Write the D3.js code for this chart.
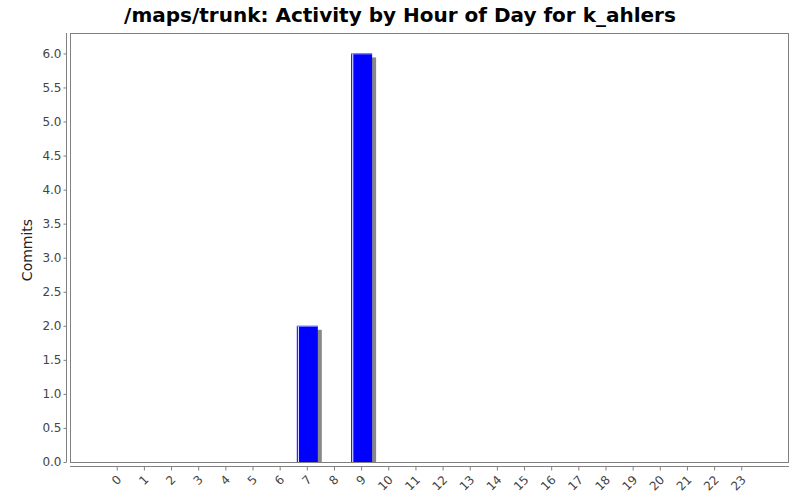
<!DOCTYPE html>
<html><head><meta charset="utf-8">
<script src="https://cdn.jsdelivr.net/npm/d3@7"></script>
<style>body{margin:0;background:#fff}</style>
</head><body>
<svg id="c" width="800" height="500"></svg>
<script>
const hours = d3.range(0,24).map(String);
const commits = [0,0,0,0,0,0,0,2,0,6,0,0,0,0,0,0,0,0,0,0,0,0,0,0];
const yTicks = [0,0.5,1,1.5,2,2.5,3,3.5,4,4.5,5,5.5,6];
const titleText = "/maps/trunk: Activity by Hour of Day for k_ahlers";
const yLabel = "Commits";

const svg = d3.select("#c");
const L=70, R=789, T=33, B=462;
const x = d3.scaleBand().domain(hours).range([L,R]).paddingInner(0.22).paddingOuter(1.35);
const y = d3.scaleLinear().domain([0,6.3]).range([B,T]);

svg.append("text").attr("x",400).attr("y",22).attr("text-anchor","middle")
  .attr("font-family","DejaVu Sans").attr("font-weight","bold").attr("font-size",20).attr("fill","#000")
  .text(titleText);

// plot box
svg.append("rect").attr("x",L+0.5).attr("y",T+0.5).attr("width",R-L-1).attr("height",B-T).attr("fill","#fff").attr("stroke","#808080");

// bars
const step = x.step();
const bw = 21;
const g = svg.append("g");
hours.forEach((h,i)=>{
  const v = commits[i]; if(!v) return;
  const cx = x(h)+x.bandwidth()/2;
  const x0 = cx-bw/2, y0=y(v);
  g.append("rect").attr("x",x0+4).attr("y",y0+4).attr("width",bw).attr("height",B-y0-4).attr("fill","#888");
  g.append("rect").attr("x",x0).attr("y",y0).attr("width",bw).attr("height",B-y0).attr("fill","#0000ff");
  g.append("rect").attr("x",x0+1).attr("y",y0).attr("width",1.2).attr("height",B-y0).attr("fill","#ffffff").attr("opacity",0.85);
  g.append("rect").attr("x",x0).attr("y",y0).attr("width",bw).attr("height",1).attr("fill","#8888ff");
});

// y axis
const ya = svg.append("g").attr("transform","translate(66.5,0)")
  .call(d3.axisLeft(y).tickValues(yTicks).tickFormat(d3.format(".1f")).tickSize(3).tickSizeOuter(0));
ya.select(".domain").attr("stroke","#808080").attr("d",`M0,${T}V${B}`);
ya.selectAll(".tick line").attr("stroke","#808080");
ya.selectAll("text").attr("font-family","DejaVu Sans").attr("font-size",12).attr("fill","#444").attr("x",-5);

// x axis
const xa = svg.append("g").attr("transform","translate(0,466.5)")
  .call(d3.axisBottom(x).tickSize(4).tickSizeOuter(0));
xa.select(".domain").attr("stroke","#808080").attr("d",`M${L},0H${R}`);
xa.selectAll(".tick line").attr("stroke","#808080");
xa.selectAll("text").attr("font-family","DejaVu Sans").attr("font-size",12).attr("fill","#444")
  .attr("text-anchor","end").attr("dy","0.35em").attr("x",0).attr("y",0)
  .attr("transform","translate(2,11) rotate(-45)");

svg.append("text").attr("transform","translate(32,250) rotate(-90)").attr("text-anchor","middle")
  .attr("font-family","DejaVu Sans").attr("font-size",14).attr("fill","#222").text(yLabel);
</script>
</body></html>
